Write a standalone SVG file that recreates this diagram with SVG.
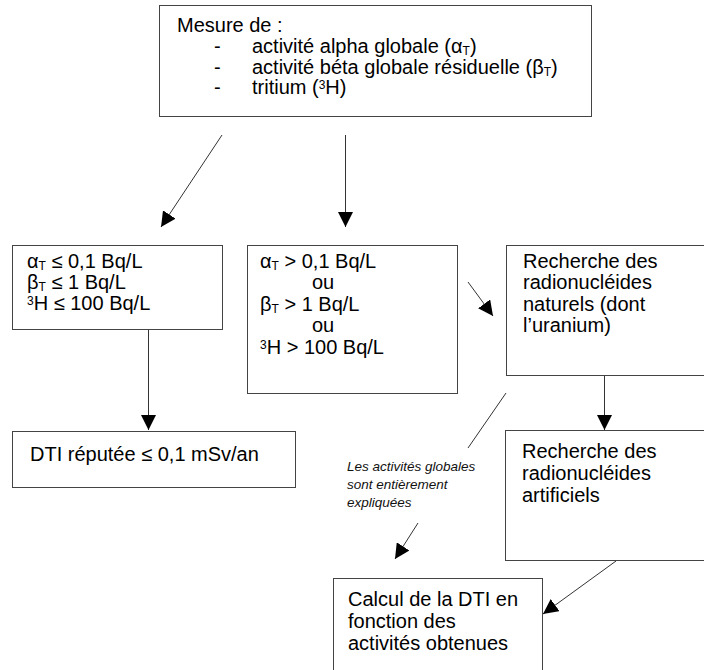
<svg xmlns="http://www.w3.org/2000/svg" width="704" height="670" viewBox="0 0 704 670">
<defs>
<marker id="ah" markerUnits="userSpaceOnUse" markerWidth="16" markerHeight="15" refX="15" refY="7.5" orient="auto">
<path d="M0,0 L15,7.5 L0,15 z" fill="#000"/>
</marker>
<style>
.box{fill:#fff;stroke:#444;stroke-width:1}
.t{font-family:"Liberation Sans",Arial,sans-serif;font-size:20px;fill:#000}
.it{font-family:"Liberation Sans",Arial,sans-serif;font-size:13.5px;font-style:italic;fill:#111}
.c{stroke:#333;stroke-width:1;fill:none}
.a{marker-end:url(#ah)}
.sb{font-size:12px}
</style>
</defs>
<rect width="704" height="670" fill="#fff"/>
<g id="mesure">
<rect class="box" x="159.5" y="5.5" width="432" height="111"/>
<text class="t" x="177" y="32">Mesure de :</text>
<text class="t" x="214" y="53">-</text>
<text class="t" x="252" y="53">activité alpha globale (α<tspan class="sb" dy="2">T</tspan><tspan dy="-2">)</tspan></text>
<text class="t" x="214" y="74">-</text>
<text class="t" x="252" y="74">activité béta globale résiduelle (β<tspan class="sb" dy="2">T</tspan><tspan dy="-2">)</tspan></text>
<text class="t" x="214" y="94">-</text>
<text class="t" x="252" y="94">tritium (<tspan class="sb" dy="-5">3</tspan><tspan dy="5">H)</tspan></text>
</g>
<g id="seuil-bas">
<rect class="box" x="12.5" y="245.5" width="210" height="84"/>
<text class="t" x="27" y="268">α<tspan class="sb" dy="2">T</tspan><tspan dy="-2"> ≤ 0,1 Bq/L</tspan></text>
<text class="t" x="27" y="289">β<tspan class="sb" dy="2">T</tspan><tspan dy="-2"> ≤ 1 Bq/L</tspan></text>
<text class="t" x="27" y="310"><tspan class="sb" dy="-5">3</tspan><tspan dy="5">H ≤ 100 Bq/L</tspan></text>
</g>
<g id="seuil-haut">
<rect class="box" x="247.5" y="245.5" width="210" height="148"/>
<text class="t" x="260" y="268">α<tspan class="sb" dy="2">T</tspan><tspan dy="-2"> &gt; 0,1 Bq/L</tspan></text>
<text class="t" x="312" y="289">ou</text>
<text class="t" x="260" y="311">β<tspan class="sb" dy="2">T</tspan><tspan dy="-2"> &gt; 1 Bq/L</tspan></text>
<text class="t" x="312" y="332">ou</text>
<text class="t" x="260" y="354"><tspan class="sb" dy="-5">3</tspan><tspan dy="5">H &gt; 100 Bq/L</tspan></text>
</g>
<g id="naturels">
<rect class="box" x="506.5" y="245.5" width="210" height="130"/>
<text class="t" x="523" y="268">Recherche des</text>
<text class="t" x="523" y="289">radionucléides</text>
<text class="t" x="523" y="311">naturels (dont</text>
<text class="t" x="523" y="332">l’uranium)</text>
</g>
<g id="dti">
<rect class="box" x="12.5" y="431.5" width="283" height="56"/>
<text class="t" x="30" y="461">DTI réputée ≤ 0,1 mSv/an</text>
</g>
<g id="artificiels">
<rect class="box" x="505.5" y="430.5" width="210" height="130"/>
<text class="t" x="522" y="458">Recherche des</text>
<text class="t" x="522" y="480">radionucléides</text>
<text class="t" x="522" y="502">artificiels</text>
</g>
<g id="calcul">
<rect class="box" x="333.5" y="578.5" width="209" height="100"/>
<text class="t" x="348" y="606">Calcul de la DTI en</text>
<text class="t" x="348" y="628">fonction des</text>
<text class="t" x="348" y="650">activités obtenues</text>
</g>
<g id="label">
<text class="it" x="347" y="471">Les activités globales</text>
<text class="it" x="347" y="489">sont entièrement</text>
<text class="it" x="347" y="507">expliquées</text>
</g>
<g id="connectors">
<line class="c a" x1="222" y1="135" x2="161" y2="227"/>
<line class="c a" x1="345.5" y1="135" x2="345.5" y2="227"/>
<line class="c a" x1="148.5" y1="330" x2="148.5" y2="430"/>
<line class="c a" x1="468" y1="282" x2="493" y2="316"/>
<line class="c a" x1="604.5" y1="376" x2="604.5" y2="430"/>
<line class="c" x1="506" y1="393" x2="468" y2="448"/>
<line class="c a" x1="418" y1="523" x2="395" y2="559"/>
<line class="c a" x1="616" y1="561" x2="543" y2="614"/>
</g>
</svg>
